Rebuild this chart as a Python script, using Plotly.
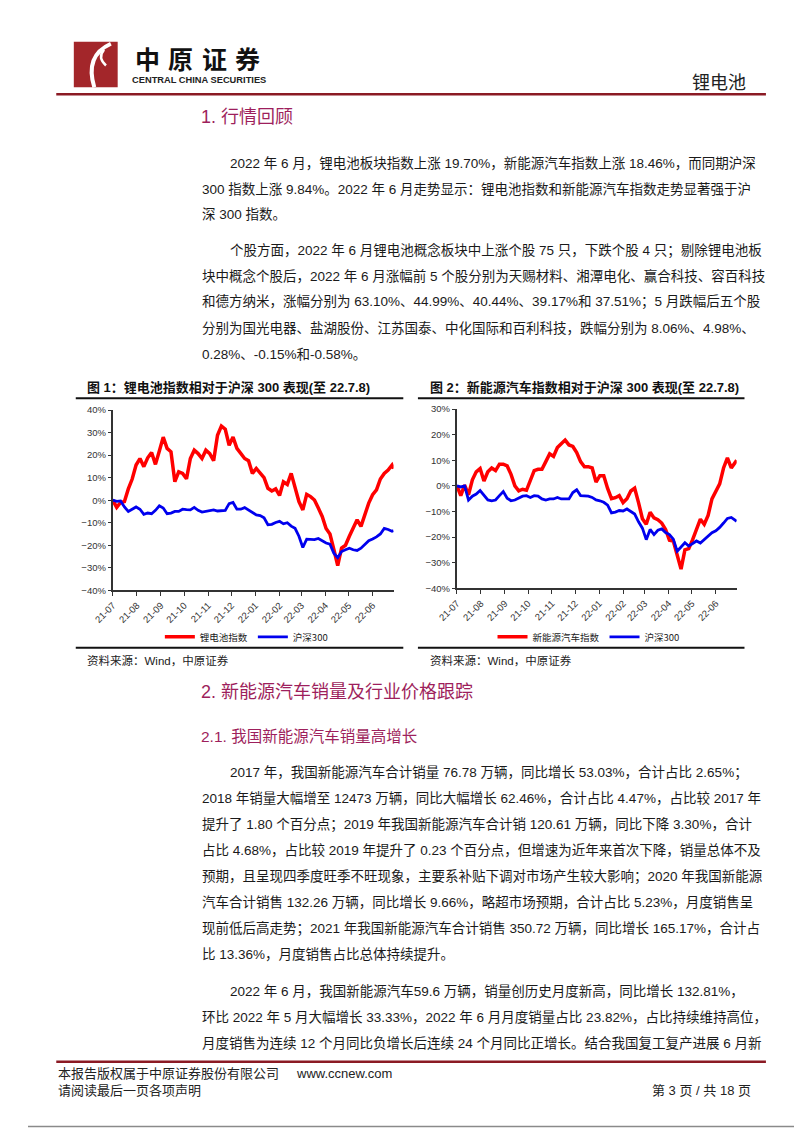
"""Report page: lithium-battery / NEV index vs CSI 300 (page 3)."""
import plotly.graph_objects as go

W, H = 802, 1133
OFF = 8  # the page body keeps an 8px margin, so the figure is drawn 8px smaller
FW, FH = W - OFF, H - OFF
BODY_FONT = "Liberation Sans, Noto Sans CJK SC"
CJK_FONT = "Noto Sans CJK SC, Liberation Sans"
HEAD_COLOR = "#9E1F5C"
RULE_RED = "#8B1A24"
TEXT = "#1a1a1a"

# --- chart data (relative performance since 2021-07, %) ---
DATES = [
    "2021-07-01", "2021-07-06", "2021-07-11", "2021-07-16", "2021-07-21", "2021-07-26",
    "2021-07-31", "2021-08-05", "2021-08-10", "2021-08-15", "2021-08-20", "2021-08-25",
    "2021-08-30", "2021-09-04", "2021-09-09", "2021-09-14", "2021-09-19", "2021-09-24",
    "2021-09-29", "2021-10-04", "2021-10-09", "2021-10-14", "2021-10-19", "2021-10-24",
    "2021-10-29", "2021-11-03", "2021-11-08", "2021-11-13", "2021-11-18", "2021-11-23",
    "2021-11-28", "2021-12-03", "2021-12-08", "2021-12-13", "2021-12-18", "2021-12-23",
    "2021-12-28", "2022-01-02", "2022-01-07", "2022-01-12", "2022-01-17", "2022-01-22",
    "2022-01-27", "2022-02-01", "2022-02-06", "2022-02-11", "2022-02-16", "2022-02-21",
    "2022-02-26", "2022-03-03", "2022-03-08", "2022-03-13", "2022-03-18", "2022-03-23",
    "2022-03-28", "2022-04-02", "2022-04-07", "2022-04-12", "2022-04-17", "2022-04-22",
    "2022-04-27", "2022-05-02", "2022-05-07", "2022-05-12", "2022-05-17", "2022-05-22",
    "2022-05-27", "2022-06-01", "2022-06-06", "2022-06-11", "2022-06-16", "2022-06-21",
    "2022-06-26", "2022-06-28",
]

LITHIUM_IDX = [
    0, -3.2, -1, -0.6, 5, 9.4, 15.6, 18.5, 14.9, 18.8, 21.2, 15.9,
    21.8, 28, 23, 21.5, 8.2, 12.6, 11.9, 9.5, 18.5, 22.2, 20.7, 18.5,
    22.2, 20.7, 17.5, 28.8, 32.9, 31.5, 24.4, 28, 23, 20.7, 18.5, 17.5,
    11.9, 14.1, 12.2, 10, 5.3, 4.1, 5, 2.1, 8.2, 7, 11.9, 6,
    -0.6, -4.3, 2.6, 1.6, 0.1, -3.5, -7.2, -12.6, -15, -21.9, -29, -21.2,
    -20, -16, -12.4, -8.7, -11.6, -6.5, -1.3, 2.4, 4.6, 9.4, 11.9, 13.4,
    15.6, 14,
]
CSI300_A = [
    0, -0.5, -0.3, -3, -5, -3.8, -3, -4, -6.3, -5.7, -6, -4.5,
    -2.5, -3.5, -6, -5.7, -5, -5, -4, -4.2, -4.3, -3.2, -4.5, -5.3,
    -5, -4.8, -4.3, -4.8, -4.8, -4.5, -1.5, -1, -4, -4, -3.3, -4.5,
    -5.3, -6.5, -6.8, -7.8, -10.9, -10.7, -9.9, -9.4, -10.5, -10, -11.5, -12.5,
    -16, -21, -17.3, -17.5, -17.5, -17, -18.2, -19, -19.5, -23.5, -25.5, -22.8,
    -22, -21.3, -22, -22.3, -21.3, -19.8, -18, -17.2, -16.3, -15, -12.5, -13,
    -13.8, -13.5,
]
NEV_IDX = [
    0, -3.8, 0.3, -3.5, 2.4, 5.5, 6.8, 1.9, 5.5, 7, 6, 8.5,
    8.5, 7.8, 4.5, 0, -1.9, -1.3, -1.7, 2, 6, 6.5, 6.5, 9.5,
    12.5, 11.5, 15, 16.5, 17.9, 16, 15.4, 13, 9.5, 7.5, 7.5, 7,
    1.5, 4, 4, -1, -5, -4.6, -3.8, -6.5, -5, -2, -0.9, -6.5,
    -12.8, -15, -10.3, -12.5, -13.2, -14.5, -17, -21.2, -21.5, -27, -32.5, -25,
    -24.5, -21, -16.5, -13, -15, -11.5, -5.1, -2.2, 0.8, 7, 10.9, 7,
    9, 10,
]
CSI300_B = [
    0, -0.4, 0, -5.5, -4, -3.2, -1.8, -3.6, -5.5, -5.8, -5.5, -3.8,
    -2.2, -4.8, -5.8, -5.5, -4.8, -4, -3.8, -4.5, -3.8, -4, -5.1, -5.5,
    -5.1, -5.1, -4.5, -5.1, -5.1, -5.1, -2.6, -1.5, -3.8, -3.8, -4, -4.5,
    -5.5, -5.8, -6.4, -7.5, -10.5, -10.2, -9.6, -9.8, -9, -10, -11, -14,
    -16.5, -21, -17, -19, -17.3, -16.8, -18.2, -19, -20.8, -25.5, -24, -22.2,
    -23.5, -22.5, -21.5, -22.3, -21, -19.7, -18.3, -17.5, -16.2, -14.5, -12.7, -12.3,
    -13.5, -13.8,
]

CHART1_NAMES = ["锂电池指数", "沪深300"]
CHART2_NAMES = ["新能源汽车指数", "沪深300"]
CHART1_TITLE = "图 1：锂电池指数相对于沪深 300 表现(至 22.7.8)"
CHART2_TITLE = "图 2：新能源汽车指数相对于沪深 300 表现(至 22.7.8)"
SOURCE = "资料来源：Wind，中原证券"

PARA1 = [
    "2022 年 6 月，锂电池板块指数上涨 19.70%，新能源汽车指数上涨 18.46%，而同期沪深",
    "300 指数上涨 9.84%。2022 年 6 月走势显示：锂电池指数和新能源汽车指数走势显著强于沪",
    "深 300 指数。",
]
PARA2 = [
    "个股方面，2022 年 6 月锂电池概念板块中上涨个股 75 只，下跌个股 4 只；剔除锂电池板",
    "块中概念个股后，2022 年 6 月涨幅前 5 个股分别为天赐材料、湘潭电化、赢合科技、容百科技",
    "和德方纳米，涨幅分别为 63.10%、44.99%、40.44%、39.17%和 37.51%；5 月跌幅后五个股",
    "分别为国光电器、盐湖股份、江苏国泰、中化国际和百利科技，跌幅分别为 8.06%、4.98%、",
    "0.28%、-0.15%和-0.58%。",
]
PARA3 = [
    "2017 年，我国新能源汽车合计销量 76.78 万辆，同比增长 53.03%，合计占比 2.65%；",
    "2018 年销量大幅增至 12473 万辆，同比大幅增长 62.46%，合计占比 4.47%，占比较 2017 年",
    "提升了 1.80 个百分点；2019 年我国新能源汽车合计销 120.61 万辆，同比下降 3.30%，合计",
    "占比 4.68%，占比较 2019 年提升了 0.23 个百分点，但增速为近年来首次下降，销量总体不及",
    "预期，且呈现四季度旺季不旺现象，主要系补贴下调对市场产生较大影响；2020 年我国新能源",
    "汽车合计销售 132.26 万辆，同比增长 9.66%，略超市场预期，合计占比 5.23%，月度销售呈",
    "现前低后高走势；2021 年我国新能源汽车合计销售 350.72 万辆，同比增长 165.17%，合计占",
    "比 13.36%，月度销售占比总体持续提升。",
]
PARA4 = [
    "2022 年 6 月，我国新能源汽车59.6 万辆，销量创历史月度新高，同比增长 132.81%，",
    "环比 2022 年 5 月大幅增长 33.33%，2022 年 6 月月度销量占比 23.82%，占比持续维持高位，",
    "月度销售为连续 12 个月同比负增长后连续 24 个月同比正增长。结合我国复工复产进展 6 月新",
]
BRAND = ["中", "原", "证", "券"]


def px(x, y):
    """Page pixel -> paper fraction."""
    return (x - OFF) / FW, 1 - (y - OFF) / FH


def add_text(fig, x, y, text, size=13.5, color=TEXT, anchor="left", family=BODY_FONT):
    ax, ay = px(x, y)
    fig.add_annotation(
        x=ax, y=ay, xref="paper", yref="paper", text=text, showarrow=False,
        xanchor=anchor, yanchor="middle", font=dict(size=size, color=color, family=family),
    )


def add_line(fig, x0, y0, x1, y1, color="#111", width=1.5):
    a0, b0 = px(x0, y0)
    a1, b1 = px(x1, y1)
    fig.add_shape(type="line", xref="paper", yref="paper", x0=a0, x1=a1, y0=b0, y1=b1,
                  line=dict(color=color, width=width))


def add_paragraph(fig, lines, y0, indent=213, left=184, step=26.3):
    for i, line in enumerate(lines):
        add_text(fig, indent if i == 0 else left, y0 + i * step, line)


fig = go.Figure()

# chart 1
fig.add_trace(go.Scatter(x=DATES, y=LITHIUM_IDX, name=CHART1_NAMES[0], mode="lines",
                         line=dict(color="#FF0000", width=3.5), xaxis="x", yaxis="y", legend="legend"))
fig.add_trace(go.Scatter(x=DATES, y=CSI300_A, name=CHART1_NAMES[1], mode="lines",
                         line=dict(color="#0000EE", width=2.8), xaxis="x", yaxis="y", legend="legend"))
# chart 2
fig.add_trace(go.Scatter(x=DATES, y=NEV_IDX, name=CHART2_NAMES[0], mode="lines",
                         line=dict(color="#FF0000", width=3.5), xaxis="x2", yaxis="y2", legend="legend2"))
fig.add_trace(go.Scatter(x=DATES, y=CSI300_B, name=CHART2_NAMES[1], mode="lines",
                         line=dict(color="#0000EE", width=2.8), xaxis="x2", yaxis="y2", legend="legend2"))

tick_font = dict(size=9.5, color="#333", family=BODY_FONT)
xaxis_common = dict(
    type="date", range=[DATES[0], DATES[-1]], dtick="M1", tick0="2021-07-01",
    tickformat="%y-%m", tickangle=-45, ticks="outside", ticklen=4, tickcolor="#333",
    showline=True, linecolor="#333", linewidth=2, showgrid=False, zeroline=False,
    tickfont=tick_font, fixedrange=True,
)
yaxis_common = dict(
    dtick=10, ticksuffix="%", ticks="outside", ticklen=3, tickcolor="#333",
    showline=True, linecolor="#333", linewidth=2, showgrid=False, zeroline=False,
    tickfont=tick_font,
)

x1a, y1a = px(95, 590)
x1b, y1b = px(383, 408)
x2a, y2a = px(448, 588)
x2b, y2b = px(735, 407)
leg1 = px(232, 637)
leg2 = px(583, 637)

legend_common = dict(orientation="h", xanchor="center", yanchor="middle",
                     font=dict(size=9.5, color="#222", family=CJK_FONT),
                     bgcolor="rgba(0,0,0,0)", itemwidth=30, tracegroupgap=0)

fig.update_layout(
    width=FW, height=FH, autosize=False,
    margin=dict(l=0, r=0, t=0, b=0),
    paper_bgcolor="white", plot_bgcolor="white",
    xaxis=dict(domain=[x1a, x1b], anchor="y", **xaxis_common),
    yaxis=dict(domain=[y1a, y1b], anchor="x", range=[-40, 40], **yaxis_common),
    xaxis2=dict(domain=[x2a, x2b], anchor="y2", **xaxis_common),
    yaxis2=dict(domain=[y2a, y2b], anchor="x2", range=[-40, 30], **yaxis_common),
    legend=dict(x=leg1[0], y=leg1[1], **legend_common),
    legend2=dict(x=leg2[0], y=leg2[1], **legend_common),
    showlegend=True,
)

# page frame (right and bottom edges; top/left fall in the body margin)
add_line(fig, 800.5, 8, 800.5, 1131.5, color="#8a8a8a", width=1.5)
add_line(fig, 8, 1131.5, 800.5, 1131.5, color="#8a8a8a", width=1.5)

# header logo
lx0, ly0 = px(55, 82)
lx1, ly1 = px(100, 36)
fig.add_shape(type="rect", xref="paper", yref="paper", x0=lx0, x1=lx1, y0=ly0, y1=ly1,
              line=dict(width=0), fillcolor="#A3262A")
pa, pb, pc = px(93, 38), px(66, 50), px(76, 82)
fig.add_shape(type="path", xref="paper", yref="paper",
              path=f"M {pa[0]} {pa[1]} Q {pb[0]} {pb[1]} {pc[0]} {pc[1]}",
              line=dict(color="white", width=4))
qa, qb, qc = px(86, 44), px(79, 52), px(88, 60)
fig.add_shape(type="path", xref="paper", yref="paper",
              path=f"M {qa[0]} {qa[1]} Q {qb[0]} {qb[1]} {qc[0]} {qc[1]}",
              line=dict(color="white", width=2.5))
for i, ch in enumerate(BRAND):
    add_text(fig, 130.6 + i * 34.3, 52, f"<b>{ch}</b>", size=25, color="#111",
             anchor="center", family=CJK_FONT)
add_text(fig, 113, 75, "<b>CENTRAL CHINA SECURITIES</b>", size=9.3, color="#222")
add_text(fig, 747, 76, "锂电池", size=18, color="#222", anchor="right", family=CJK_FONT)
add_line(fig, 37, 89, 765, 89, color=RULE_RED, width=2.5)

# section 1
add_text(fig, 183, 112, "1. 行情回顾", size=18, color=HEAD_COLOR)
add_paragraph(fig, PARA1, 158)
add_paragraph(fig, PARA2, 246.5)

# chart frames
add_text(fig, 66, 385, f"<b>{CHART1_TITLE}</b>", size=13, color="#111")
add_text(fig, 418, 385, f"<b>{CHART2_TITLE}</b>", size=13, color="#111")
add_line(fig, 57, 396, 393, 396, width=2)
add_line(fig, 408, 396, 743, 396, width=2)
add_line(fig, 57, 648, 393, 648, width=2)
add_line(fig, 408, 648, 743, 648, width=2)
add_text(fig, 66, 661, SOURCE, size=11.5, color="#222")
add_text(fig, 418, 661, SOURCE, size=11.5, color="#222")

# section 2
add_text(fig, 183, 693, "2. 新能源汽车销量及行业价格跟踪", size=18, color=HEAD_COLOR)
add_text(fig, 183, 738, "2.1. 我国新能源汽车销量高增长", size=15.5, color=HEAD_COLOR)
add_paragraph(fig, PARA3, 773.6)
add_paragraph(fig, PARA4, 995)

# footer
add_line(fig, 37, 1066, 765, 1066, color=RULE_RED, width=2.5)
add_text(fig, 37, 1078, "本报告版权属于中原证券股份有限公司", size=13, color="#222")
add_text(fig, 281, 1078, "www.ccnew.com", size=13, color="#222")
add_text(fig, 37, 1095, "请阅读最后一页各项声明", size=13, color="#222")
add_text(fig, 752, 1095, "第 3 页 / 共 18 页", size=13, color="#222", anchor="right")

fig.write_html("out.html")
